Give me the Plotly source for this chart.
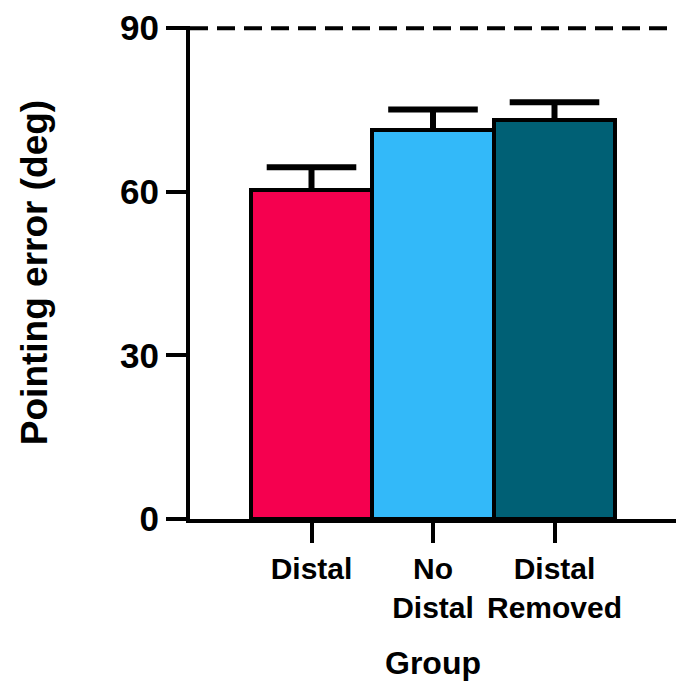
import plotly.graph_objects as go

categories = ["Distal", "No<br>Distal", "Distal<br>Removed"]
means = [60.3, 71.4, 73.1]
errors = [4.2, 3.7, 3.3]
colors = ["#F5004F", "#33B9F9", "#006075"]
y_ticks = [0, 30, 60, 90]
chance_level = 90

FONT = "Liberation Sans, Arial, sans-serif"

fig = go.Figure()
fig.add_trace(go.Bar(
    x=categories, y=means,
    marker=dict(color=colors, line=dict(color="black", width=4)),
    showlegend=False, hoverinfo="skip",
))

# upward error bars (stem + top cap only)
stem_x, stem_y = [], []
for c, m, e in zip(categories, means, errors):
    stem_x += [c, c, None]
    stem_y += [m, m + e, None]
fig.add_trace(go.Scatter(
    x=stem_x, y=stem_y, mode="lines",
    line=dict(color="black", width=6), showlegend=False, hoverinfo="skip",
))
fig.add_trace(go.Scatter(
    x=categories, y=[m + e for m, e in zip(means, errors)], mode="markers",
    marker=dict(symbol="line-ew", size=64, color="black",
                line=dict(color="black", width=6)),
    showlegend=False, cliponaxis=False,
))

fig.add_shape(type="line", xref="paper", x0=0, x1=0.99, yref="y",
              y0=chance_level, y1=chance_level,
              line=dict(color="black", width=4, dash="18px,9px"))

fig.update_layout(
    width=680, height=684,
    margin=dict(l=190, r=4, t=26, b=165),
    plot_bgcolor="white", paper_bgcolor="white",
    bargap=0,
    font=dict(family=FONT, color="black", weight="bold"),
)
fig.update_xaxes(
    range=[-1, 3], showline=True, linecolor="black", linewidth=4,
    ticks="outside", ticklen=20, tickwidth=4, tickcolor="black",
    tickfont=dict(size=30, family=FONT, weight="bold"),
    title=dict(text="Group", font=dict(size=32, family=FONT, weight="bold"), standoff=30),
    showgrid=False, zeroline=False,
)
fig.update_yaxes(
    range=[0, 90.4], tickvals=y_ticks, showline=True, linecolor="black", linewidth=4,
    ticks="outside", ticklen=20, tickwidth=4, tickcolor="black",
    tickfont=dict(size=35, family=FONT, weight="bold"),
    title=dict(text="Pointing error (deg)", font=dict(size=37, family=FONT, weight="bold"), standoff=62),
    showgrid=False, zeroline=False,
)

fig.write_html("out.html", config={"displayModeBar": False},
               post_script="document.body.style.margin='0';document.body.style.overflow='hidden';")
